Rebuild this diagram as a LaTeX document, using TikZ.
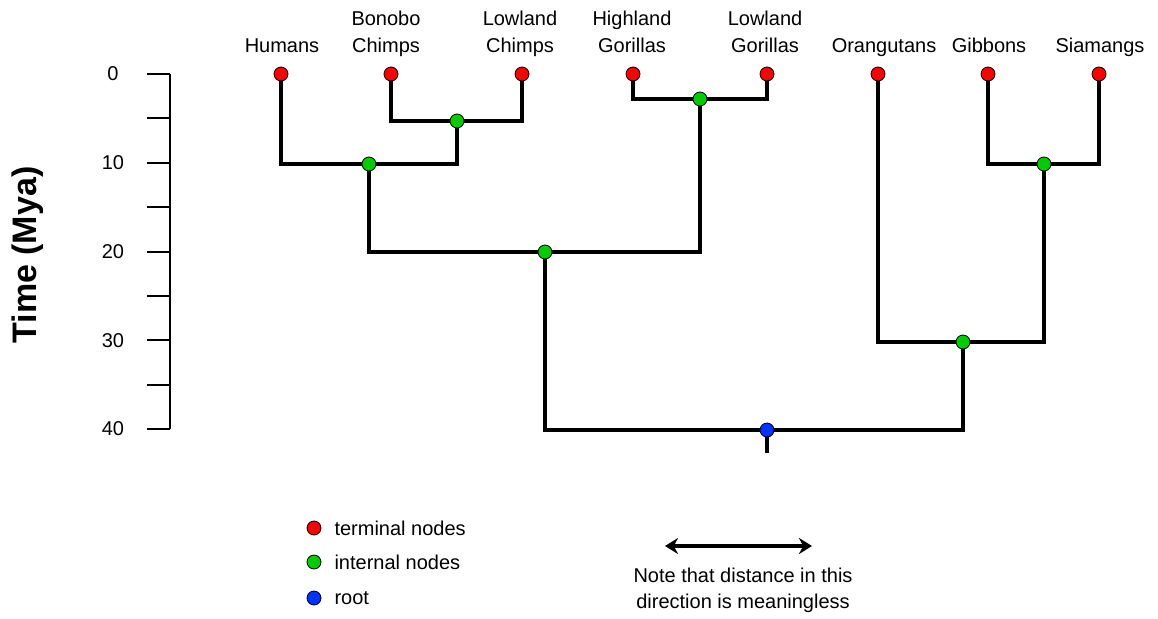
\documentclass[tikz,border=0pt]{standalone}
\usepackage{fontspec}
\setmainfont{Liberation Sans}
\usetikzlibrary{arrows.meta,backgrounds}
\definecolor{tipred}{RGB}{255,0,0}
\definecolor{intgreen}{RGB}{0,204,0}
\definecolor{rootblue}{RGB}{0,51,255}

\begin{document}
\begin{tikzpicture}[x=1pt, y=-1pt,
	every node/.style={font=\fontsize{20}{27}\selectfont},
	dot/.style={circle, draw=black, line width=0.8pt, inner sep=0pt, minimum size=14pt},
	tnode/.style={dot, fill=tipred},
	inode/.style={dot, fill=intgreen},
	rnode/.style={dot, fill=rootblue},
	branch/.style={line width=3.5pt},
	taxon/.style={align=center, anchor=south, inner sep=0pt, text depth=0pt}]
	\useasboundingbox (0,0) rectangle (1158,618);

	% time axis
	\draw[line width=2pt] (170,74) -- (170,429);
	\foreach \t in {0,5,...,40}
		\draw[line width=2pt] (147,{74+8.875*\t}) -- (170,{74+8.875*\t});
	\foreach \t in {0,10,...,40}
		\draw (113,{74+8.875*\t}) node (tick\t) {\t};
	\draw (28,255) node[rotate=90, font=\bfseries\fontsize{34}{34}\selectfont] (ylab) {Time (Mya)};

	% terminal nodes
	\draw ( 281, 74) node[tnode] (hum) {};
	\draw ( 391, 74) node[tnode] (bon) {};
	\draw ( 522, 74) node[tnode] (lch) {};
	\draw ( 633, 74) node[tnode] (hgo) {};
	\draw ( 767, 74) node[tnode] (lgo) {};
	\draw ( 878, 74) node[tnode] (ora) {};
	\draw ( 988, 74) node[tnode] (gib) {};
	\draw (1099, 74) node[tnode] (sia) {};

	\draw ( 282, 53) node[taxon] (lhum) {Humans};
	\draw ( 386, 53) node[taxon] (lbon) {Bonobo\\Chimps};
	\draw ( 520, 53) node[taxon] (llch) {Lowland\\Chimps};
	\draw ( 632, 53) node[taxon] (lhgo) {Highland\\Gorillas};
	\draw ( 765, 53) node[taxon] (llgo) {Lowland\\Gorillas};
	\draw ( 884, 53) node[taxon] (lora) {Orangutans};
	\draw ( 989, 53) node[taxon] (lgib) {Gibbons};
	\draw (1100, 53) node[taxon] (lsia) {Siamangs};

	% internal nodes and root
	\draw ( 457,121) node[inode] (chi) {};
	\draw ( 369,164) node[inode] (hch) {};
	\draw ( 700, 99) node[inode] (gor) {};
	\draw ( 545,252) node[inode] (hom) {};
	\draw (1044,164) node[inode] (hyl) {};
	\draw ( 963,342) node[inode] (pon) {};
	\draw ( 767,430) node[rnode] (root) {};
	\coordinate (stem) at (767,453);

	\begin{scope}[on background layer]
	\draw[branch] (bon.center) |- (chi.center) -| (lch.center);
	\draw[branch] (hum.center) |- (hch.center) -| (chi.center);
	\draw[branch] (hgo.center) |- (gor.center) -| (lgo.center);
	\draw[branch] (hch.center) |- (hom.center) -| (gor.center);
	\draw[branch] (gib.center) |- (hyl.center) -| (sia.center);
	\draw[branch] (ora.center) |- (pon.center) -| (hyl.center);
	\draw[branch] (hom.center) |- (root.center) -| (pon.center);
	\draw[branch] (root.center) -- (stem);
	\end{scope}

	% legend
	\draw (314,528) node[tnode] (ktn) {};
	\draw (314,562) node[inode] (kin) {};
	\draw (314,598) node[rnode] (kro) {};
	\draw (331,528) node[anchor=west] (ktnl) {terminal nodes};
	\draw (331,562) node[anchor=west] (kinl) {internal nodes};
	\draw (331,598) node[anchor=west] (krol) {root};

	\coordinate (al) at (665,546);
	\coordinate (ar) at (812,546);
	\draw[line width=3.5pt, {Stealth[length=13pt,width=16pt]}-{Stealth[length=13pt,width=16pt]}] (al) -- (ar);
	\draw (743,590) node[align=center, font=\fontsize{20}{26}\selectfont] (note) {Note that distance in this\\direction is meaningless};
\end{tikzpicture}
\end{document}
